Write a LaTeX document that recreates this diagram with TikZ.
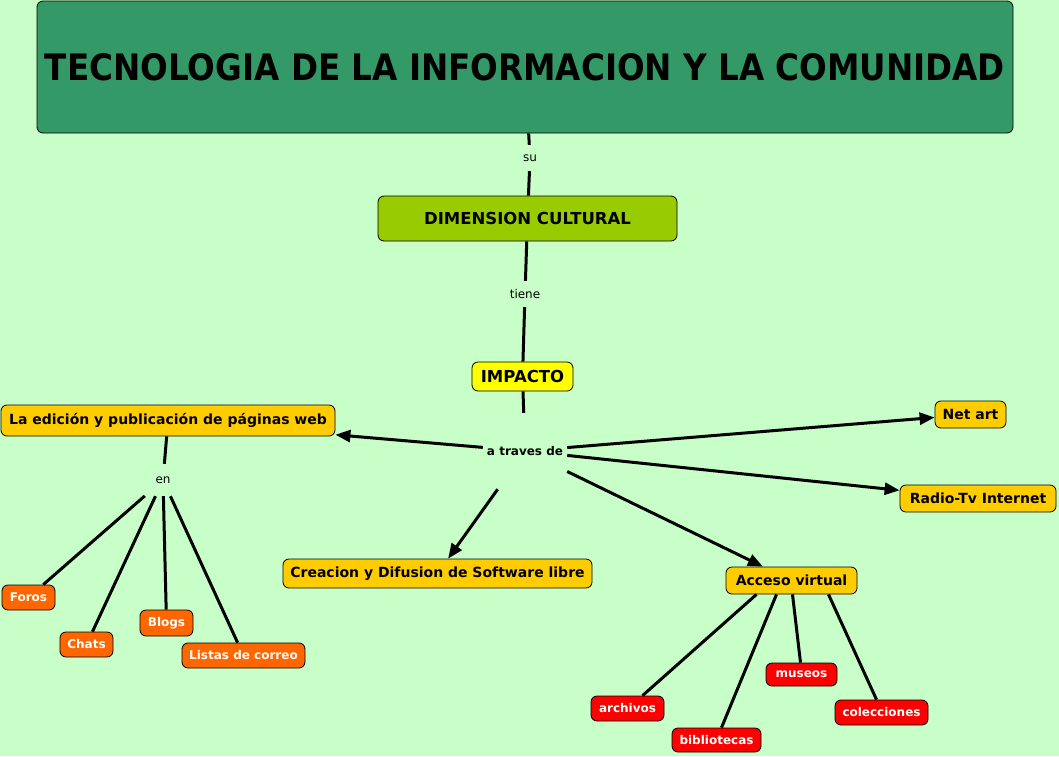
\documentclass[tikz,border=0pt]{standalone}
\usepackage{fontspec}
\usepackage{graphicx}
\setmainfont{DejaVu Sans}
\usetikzlibrary{arrows.meta}
\definecolor{fondo}{HTML}{C8FFC8}
\definecolor{verdeosc}{HTML}{339966}
\definecolor{verdelima}{HTML}{99CC00}
\definecolor{amarillo}{HTML}{FFFF00}
\definecolor{naranja}{HTML}{FFCC00}
\definecolor{naranjaosc}{HTML}{FF6600}
\definecolor{rojo}{HTML}{FF0000}
\tikzset{
  concepto/.style={draw=black, line width=0.8pt, rounded corners=6pt, inner sep=0pt,
    font=\bfseries\fontsize{14}{16}\selectfont},
  hoja/.style={concepto, text=white, font=\bfseries\fontsize{12}{14}\selectfont},
  enlace/.style={inner sep=0pt, font=\fontsize{12}{14}\selectfont},
  linea/.style={line width=3pt},
}
\begin{document}
\begin{tikzpicture}[x=1pt, y=-1pt, >={Triangle[length=15pt,width=12pt]}]
            \path[use as bounding box, fill=fondo] (0,0) rectangle (1059,756);
            \node[concepto, fill=verdeosc, minimum width=976, minimum height=132] (tic) at (525,67)
              {\resizebox{960pt}{27pt}{TECNOLOGIA DE LA INFORMACION Y LA COMUNIDAD}};
            \node[concepto, fill=verdelima, minimum width=299, minimum height=45, font=\bfseries\fontsize{16.5}{19}\selectfont] (dim) at (527.5,218.5) {DIMENSION CULTURAL};
            \node[concepto, fill=amarillo, minimum width=101, minimum height=29, font=\bfseries\fontsize{16.5}{19}\selectfont] (imp) at (522.5,376.5) {IMPACTO};
            \node[concepto, fill=naranja, minimum width=334, minimum height=31] (web) at (168,420.5) {La edición y publicación de páginas web};
            \node[concepto, fill=naranja, minimum width=71, minimum height=27] (net) at (970.5,414.5) {Net art};
            \node[concepto, fill=naranja, minimum width=156, minimum height=27] (radio) at (978,498.5) {Radio-Tv Internet};
            \node[concepto, fill=naranja, minimum width=309, minimum height=29] (soft) at (437.5,573.5) {Creacion y Difusion de Software libre};
            \node[concepto, fill=naranja, minimum width=131, minimum height=27] (acceso) at (791.5,580.5) {Acceso virtual};
            \node[hoja, fill=naranjaosc, minimum width=53, minimum height=25] (foros) at (28.5,597.5) {Foros};
            \node[hoja, fill=naranjaosc, minimum width=53, minimum height=25] (chats) at (86.5,644.5) {Chats};
            \node[hoja, fill=naranjaosc, minimum width=53, minimum height=26] (blogs) at (166.5,623) {Blogs};
            \node[hoja, fill=naranjaosc, minimum width=123, minimum height=25] (listas) at (243.5,655.5) {Listas de correo};
            \node[hoja, fill=rojo, minimum width=73, minimum height=25] (arch) at (627.5,708.5) {archivos};
            \node[hoja, fill=rojo, minimum width=89, minimum height=24] (bibl) at (716.5,740) {bibliotecas};
            \node[hoja, fill=rojo, minimum width=71, minimum height=23] (mus) at (801.5,674.5) {museos};
            \node[hoja, fill=rojo, minimum width=93, minimum height=25] (colec) at (881.5,712.5) {colecciones};
            \node[enlace, minimum height=26] (su) at (530,158) {su};
            \node[enlace, minimum height=26] (tiene) at (525,294) {tiene};
            \node[enlace, minimum width=84, minimum height=76, font=\bfseries\fontsize{12}{14}\selectfont] (traves) at (525,451) {a traves de};
            \node[enlace, minimum width=36, minimum height=32] (en) at (163,480) {en};
            \draw[linea] (tic) -- (su);
            \draw[linea] (su) -- (dim);
            \draw[linea] (dim) -- (tiene);
            \draw[linea] (tiene) -- (imp);
            \draw[linea] (imp) -- (traves);
            \draw[linea, ->] (traves) -- (web);
            \draw[linea, ->] (traves) -- (net);
            \draw[linea, ->] (traves) -- (radio);
            \draw[linea, ->] (traves) -- (soft);
            \draw[linea, ->] (traves) -- (acceso);
            \draw[linea] (web) -- (en);
            \draw[linea] (en) -- (foros);
            \draw[linea] (en) -- (chats);
            \draw[linea] (en) -- (blogs);
            \draw[linea] (en) -- (listas);
            \draw[linea] ([xshift=-35pt]acceso.south) -- ([xshift=15pt]arch.north);
            \draw[linea] ([xshift=-15pt]acceso.south) -- ([xshift=5pt]bibl.north);
            \draw[linea] ([xshift=1pt]acceso.south) -- ([xshift=-1pt]mus.north);
            \draw[linea] ([xshift=37pt]acceso.south) -- ([xshift=-5pt]colec.north);
        \end{tikzpicture}
\end{document}
